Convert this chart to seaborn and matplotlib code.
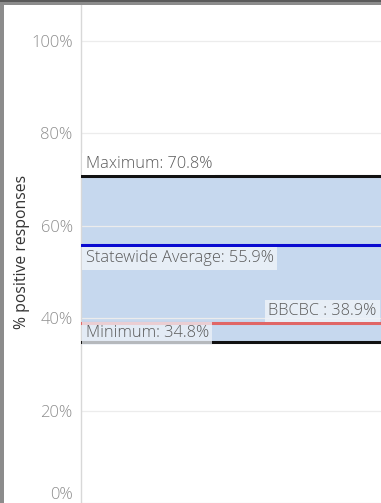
import matplotlib
matplotlib.use("Agg")
import matplotlib.pyplot as plt
import seaborn as sns
import pandas as pd
from matplotlib.patches import Rectangle

# Reference values (% positive responses)
stat_names = ["Maximum", "Statewide Average", "BBCBC", "Minimum"]
stat_values = [70.8, 55.9, 38.9, 34.8]
line_colors = ["#111111", "#0a0ad0", "#e06666", "#111111"]
y_ticks = [0, 20, 40, 60, 80, 100]
y_tick_labels = ["0%", "20%", "40%", "60%", "80%", "100%"]

sns.set_style("white")
plt.rcParams["font.family"] = ["Open Sans", "DejaVu Sans"]

W, H = 381, 503
fig = plt.figure(figsize=(W / 100, H / 100), dpi=100)
fig.patch.set_facecolor("white")
# grey frame on the left and top
fig.patches.append(Rectangle((0, 0), 4 / W, 1, transform=fig.transFigure,
                             facecolor="#8c8c8c", edgecolor="none", zorder=0))
fig.patches.append(Rectangle((0, (H - 5) / H), 1, 5 / H, transform=fig.transFigure,
                             facecolor="#8c8c8c", edgecolor="none", zorder=0))
fig.patches.append(Rectangle((0, (H - 2) / H), 1, 2 / H, transform=fig.transFigure,
                             facecolor="#5a5a5a", edgecolor="none", zorder=0))

ax = fig.add_axes([81 / W, 0, 1 - 81 / W, (H - 5) / H])
ax.set_facecolor("none")

ymax = (H - 5) / ((503 - 41) / 100)
ax.set_ylim(0, ymax)
ax.set_xlim(0, 1)

vals = dict(zip(stat_names, stat_values))
lo, hi = vals["Minimum"], vals["Maximum"]

# band between minimum and maximum
ax.fill_between([0, 1], lo, hi, color="#c6d8ee", zorder=1, linewidth=0)

for y in y_ticks:
    ax.axhline(y, color="#ececec", lw=0.9, zorder=1.5)

lines = pd.DataFrame({
    "x": [0, 1] * len(stat_names),
    "y": [v for v in stat_values for _ in range(2)],
    "stat": [n for n in stat_names for _ in range(2)],
})
sns.lineplot(data=lines, x="x", y="y", hue="stat", palette=dict(zip(stat_names, line_colors)),
             linewidth=2.2, legend=False, ax=ax, zorder=3)

ax.set_yticks(y_ticks)
ax.set_yticklabels(y_tick_labels, color="#8e8e8e", fontsize=12, fontweight="light")
ax.get_yticklabels()[0].set_va("bottom")
ax.tick_params(axis="y", length=0, pad=6)
ax.set_xticks([])
ax.set_xlabel("")
ax.set_ylabel("% positive responses", color="#333333", fontsize=11.3)
ax.yaxis.set_label_coords(-(81 - 30) / (W - 81), (503 - 252) / (H - 5))
for side in ["top", "right", "bottom"]:
    ax.spines[side].set_visible(False)
ax.spines["left"].set_color("#d8d8d8")
ax.spines["left"].set_linewidth(1)

txt_kw = dict(fontsize=11.8, color="#5a5a5a", zorder=4, fontweight="light")

ax.text(0.015, hi + 0.8, f"Maximum: {hi}%", ha="left", va="bottom",
        bbox=dict(boxstyle="square,pad=0.2", fc="white", ec="none", alpha=0.85), **txt_kw)
avg = vals["Statewide Average"]
ax.text(0.015, avg - 1.2, f"Statewide Average: {avg}%", ha="left", va="top",
        bbox=dict(boxstyle="square,pad=0.2", fc="#eef2f8", ec="none", alpha=0.85), **txt_kw)
org = vals["BBCBC"]
ax.text(0.985, org + 0.9, f"BBCBC : {org}%", ha="right", va="bottom",
        bbox=dict(boxstyle="square,pad=0.2", fc="#eef2f8", ec="none", alpha=0.85), **txt_kw)
ax.text(0.015, lo + 0.2, f"Minimum: {lo}%", ha="left", va="bottom",
        bbox=dict(boxstyle="square,pad=0.2", fc="#eef2f8", ec="none", alpha=0.75), **txt_kw)

fig.savefig("out.png", dpi=100, facecolor=fig.get_facecolor())
